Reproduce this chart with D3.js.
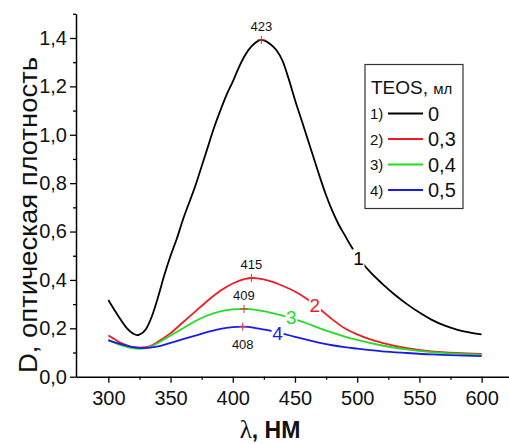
<!DOCTYPE html>
<html>
<head>
<meta charset="utf-8">
<script src="https://cdn.jsdelivr.net/npm/d3@7"></script>
<style>
  body { margin: 0; background: #fff; }
  svg { display: block; font-family: "Liberation Sans", Arial, sans-serif; }
</style>
</head>
<body>
<svg id="chart" width="509" height="444"></svg>
<script>
// wavelength, nm
const wl1 = [300, 305, 310, 315, 320, 323, 325, 330, 335, 340, 345, 350, 355, 360, 365, 370, 375, 380, 385, 390, 395, 400, 405, 410, 415, 420, 423, 425, 430, 435, 440, 445, 450, 455, 460, 465, 470, 475, 480, 485, 490, 495, 500, 505, 510, 520, 530, 540, 550, 560, 570, 580, 590, 600];
const d1 = [0.317, 0.275, 0.235, 0.2, 0.178, 0.172, 0.174, 0.195, 0.25, 0.33, 0.42, 0.5, 0.57, 0.65, 0.72, 0.79, 0.87, 0.95, 1.03, 1.1, 1.165, 1.22, 1.28, 1.33, 1.365, 1.387, 1.392, 1.39, 1.375, 1.35, 1.305, 1.23, 1.144, 1.065, 0.985, 0.905, 0.825, 0.75, 0.685, 0.63, 0.585, 0.54, 0.5, 0.465, 0.435, 0.385, 0.34, 0.3, 0.265, 0.235, 0.212, 0.195, 0.183, 0.175];

const wl2 = [300, 305, 310, 315, 320, 325, 330, 335, 340, 350, 360, 370, 380, 390, 400, 410, 415, 420, 430, 440, 450, 460, 470, 480, 490, 500, 510, 520, 540, 560, 580, 600];
const d2 = [0.17, 0.155, 0.14, 0.13, 0.122, 0.12, 0.122, 0.13, 0.145, 0.18, 0.225, 0.27, 0.315, 0.355, 0.385, 0.404, 0.408, 0.406, 0.395, 0.376, 0.352, 0.32, 0.28, 0.237, 0.2, 0.175, 0.155, 0.14, 0.118, 0.105, 0.098, 0.094];

const wl3 = [300, 310, 320, 325, 330, 340, 350, 360, 370, 380, 390, 400, 409, 420, 430, 440, 450, 460, 470, 480, 490, 500, 520, 540, 560, 580, 600];
const d3v = [0.152, 0.13, 0.117, 0.115, 0.118, 0.14, 0.17, 0.2, 0.23, 0.254, 0.27, 0.278, 0.28, 0.275, 0.265, 0.252, 0.237, 0.22, 0.2, 0.182, 0.166, 0.152, 0.129, 0.113, 0.102, 0.095, 0.09];

const wl4 = [300, 310, 320, 328, 340, 350, 360, 370, 380, 390, 400, 408, 420, 430, 440, 450, 460, 470, 480, 490, 500, 520, 540, 560, 580, 600];
const d4 = [0.15, 0.135, 0.122, 0.118, 0.125, 0.14, 0.155, 0.17, 0.185, 0.198, 0.205, 0.207, 0.2, 0.19, 0.178, 0.165, 0.152, 0.14, 0.13, 0.122, 0.116, 0.105, 0.098, 0.092, 0.088, 0.085];

const legendNames = ["1)", "2)", "3)", "4)"];
const teosValues = ["0", "0,3", "0,4", "0,5"];
const colors = ["#000000", "#ee1c24", "#22dd22", "#1a1aee"];

// peaks: wavelength and height
const peakWl = [423, 415, 409, 408];
const peakD = [1.392, 0.408, 0.28, 0.207];

// curve number labels (position along curve)
const numWl = [501, 466, 447, 436];
const numD = [0.49, 0.295, 0.248, 0.182];

const xTicks = [300, 350, 400, 450, 500, 550, 600];
const yTicks = [0, 0.2, 0.4, 0.6, 0.8, 1.0, 1.2, 1.4];

const svg = d3.select("#chart");

const x = d3.scaleLinear().domain([274, 622]).range([76, 509]);
const y = d3.scaleLinear().domain([0, 1.5]).range([376.7, 13.8]);

const fmt = d => d3.format(".1f")(d).replace(".", ",");

// minor ticks
svg.append("g")
  .attr("transform", "translate(0,376.7)")
  .call(d3.axisBottom(x).tickValues(d3.range(325, 625, 50)).tickSize(3).tickFormat(""))
  .call(g => g.select(".domain").remove())
  .selectAll("line").attr("stroke-width", 1.3);
svg.append("g")
  .attr("transform", "translate(76,0)")
  .call(d3.axisLeft(y).tickValues(d3.range(0.1, 1.55, 0.2)).tickSize(3).tickFormat(""))
  .call(g => g.select(".domain").remove())
  .selectAll("line").attr("stroke-width", 1.3);

// main axes
const xAxis = svg.append("g")
  .attr("transform", "translate(0,376.7)")
  .call(d3.axisBottom(x).tickValues(xTicks).tickSize(6).tickSizeOuter(0).tickPadding(8));
const yAxis = svg.append("g")
  .attr("transform", "translate(76,0)")
  .call(d3.axisLeft(y).tickValues(yTicks).tickSize(6).tickSizeOuter(0).tickPadding(3).tickFormat(fmt));

[xAxis, yAxis].forEach(a => {
  a.select(".domain").attr("stroke-width", 1.5);
  a.selectAll("line").attr("stroke-width", 1.3);
  a.selectAll("text").attr("font-size", 20).attr("fill", "#111")
    .attr("font-family", "Liberation Sans, Arial, sans-serif");
});

// curves
const series = [
  wl1.map((w, i) => [w, d1[i]]),
  wl2.map((w, i) => [w, d2[i]]),
  wl3.map((w, i) => [w, d3v[i]]),
  wl4.map((w, i) => [w, d4[i]])
];
const line = d3.line().x(d => x(d[0])).y(d => y(d[1])).curve(d3.curveMonotoneX);

svg.append("g").selectAll("path")
  .data(series)
  .join("path")
  .attr("d", line)
  .attr("fill", "none")
  .attr("stroke", (d, i) => colors[i])
  .attr("stroke-width", 1.8);

// curve number labels with white gap
const nums = svg.append("g");
numWl.forEach((w, i) => {
  const cx = x(w), cy = y(numD[i]);
  nums.append("rect")
    .attr("x", cx - 6).attr("y", cy - 9)
    .attr("width", 12).attr("height", 18)
    .attr("fill", "#fff");
  nums.append("text")
    .attr("x", cx).attr("y", cy + 7)
    .attr("text-anchor", "middle")
    .attr("font-size", 19)
    .attr("fill", colors[i])
    .text(i + 1);
});

// peak markers
const peaks = svg.append("g");
peakWl.forEach((w, i) => {
  const px = x(w), py = y(peakD[i]);
  peaks.append("path")
    .attr("d", `M${px - 4},${py}H${px + 4}M${px},${py - 4}V${py + 4}`)
    .attr("stroke", "#e03030")
    .attr("stroke-width", 1);
  const below = i === 3;
  peaks.append("text")
    .attr("x", px)
    .attr("y", below ? py + 22 : py - 9)
    .attr("text-anchor", "middle")
    .attr("font-size", 13)
    .attr("fill", "#111")
    .text(w);
});

// legend
const lg = svg.append("g");
lg.append("rect")
  .attr("x", 365).attr("y", 64.5)
  .attr("width", 98).attr("height", 144)
  .attr("fill", "#fff")
  .attr("stroke", "#333")
  .attr("stroke-width", 1.2);
const title = lg.append("text").attr("x", 371).attr("y", 94).attr("fill", "#111");
title.append("tspan").attr("font-size", 19).text("TEOS, ");
title.append("tspan").attr("font-size", 15).text("мл");
legendNames.forEach((n, i) => {
  const ry = 113 + i * 25.5;
  lg.append("text").attr("x", 370).attr("y", ry + 6)
    .attr("font-size", 15).attr("fill", "#111").text(n);
  lg.append("line")
    .attr("x1", 388).attr("x2", 423)
    .attr("y1", ry + 0.5).attr("y2", ry + 0.5)
    .attr("stroke", colors[i]).attr("stroke-width", 1.8);
  lg.append("text").attr("x", 428).attr("y", ry + 7.5)
    .attr("font-size", 20).attr("fill", "#111").text(teosValues[i]);
});

// axis titles
const xt = svg.append("text")
  .attr("x", 270).attr("y", 438)
  .attr("text-anchor", "middle")
  .attr("font-size", 23)
  .attr("fill", "#111");
xt.append("tspan").attr("font-family", "Liberation Serif, serif").attr("font-size", 25).text("λ");
xt.append("tspan").attr("font-weight", "bold").text(", НМ");

svg.append("text")
  .attr("transform", "translate(37,215) rotate(-90)")
  .attr("text-anchor", "middle")
  .attr("font-size", 25)
  .attr("textLength", 316)
  .attr("lengthAdjust", "spacingAndGlyphs")
  .attr("fill", "#111")
  .text("D, оптическая плотность");
</script>
</body>
</html>
